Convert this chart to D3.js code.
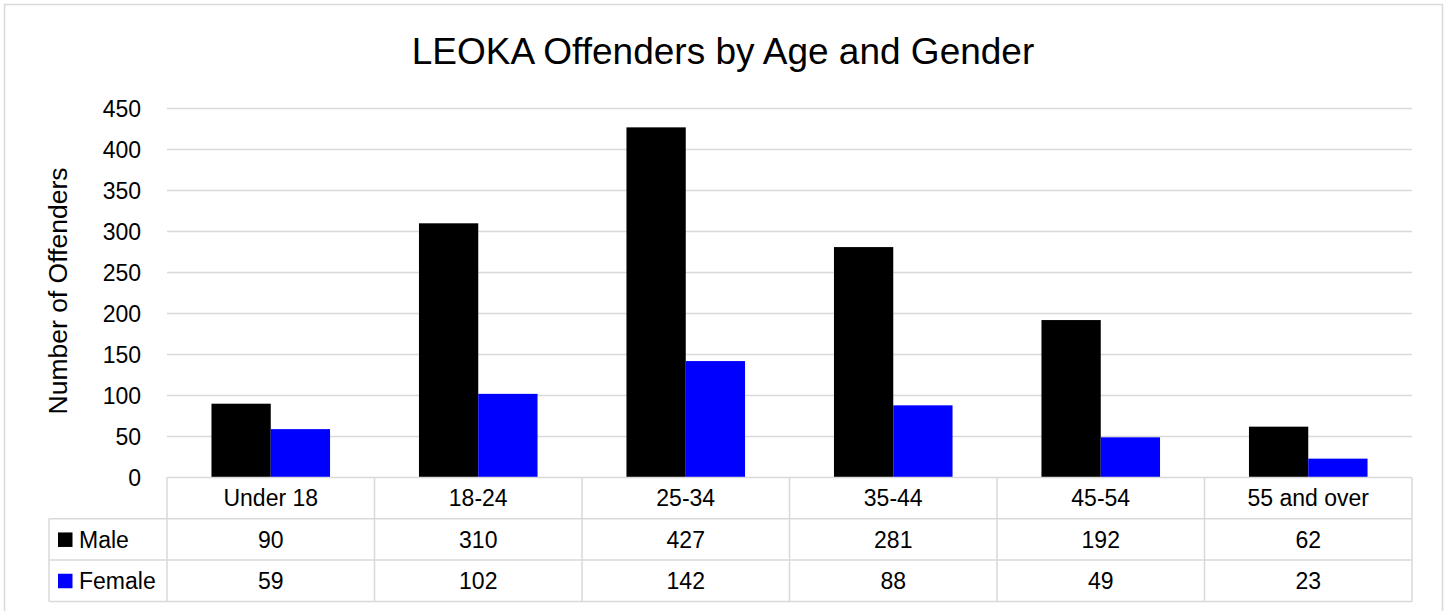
<!DOCTYPE html>
<html>
<head>
<meta charset="utf-8">
<script src="https://cdn.jsdelivr.net/npm/d3@7"></script>
<style>
  body { margin: 0; background: #fff; }
  svg { display: block; font-family: Arial, "Liberation Sans", sans-serif; }
</style>
</head>
<body>
<svg class="chart"></svg>
<script>
// data
const ageGroups = ['Under 18', '18-24', '25-34', '35-44', '45-54', '55 and over']
const seriesNames = ['Male', 'Female']
const maleCounts = [90, 310, 427, 281, 192, 62]
const femaleCounts = [59, 102, 142, 88, 49, 23]
const yTicks = [0, 50, 100, 150, 200, 250, 300, 350, 400, 450]
const seriesColors = ['#000000', '#0000ff']

const width = 1447
const height = 611
const plot = { left: 167, right: 1412, top: 108.5, bottom: 477.5 }
const rowH = 41.3
const gridColor = '#d9d9d9'
const smallFont = 23

const svg = d3.select('.chart')
  .attr('width', width)
  .attr('height', height)

// outer chart frame
svg.append('rect')
  .attr('x', 4.5).attr('y', 4.5)
  .attr('width', 1438).attr('height', 612)
  .attr('fill', 'none')
  .attr('stroke', gridColor)
  .attr('stroke-width', 1.5)

svg.append('text')
  .attr('x', 723)
  .attr('y', 64)
  .attr('text-anchor', 'middle')
  .attr('font-size', 37)
  .text('LEOKA Offenders by Age and Gender')

const x = d3.scaleBand()
  .domain(ageGroups)
  .range([plot.left, plot.right])
  .paddingInner(0)
  .paddingOuter(0)

// gap width 150% -> 0.75 bar of space on each side of the pair
const xInner = d3.scaleBand()
  .domain(seriesNames)
  .range([0, x.bandwidth()])
  .paddingInner(0)
  .paddingOuter(0.75)

const y = d3.scaleLinear()
  .domain([0, 450])
  .range([plot.bottom, plot.top])

// gridlines
svg.append('g')
  .selectAll('line')
  .data(yTicks.slice(1))
  .enter()
  .append('line')
  .attr('x1', plot.left)
  .attr('x2', plot.right)
  .attr('y1', d => y(d))
  .attr('y2', d => y(d))
  .attr('stroke', gridColor)
  .attr('stroke-width', 1.5)

// y axis labels
const yAxis = d3.axisLeft(y).tickValues(yTicks).tickSize(0).tickPadding(0)
svg.append('g')
  .attr('transform', 'translate(141,0)')
  .call(yAxis)
  .call(g => g.select('.domain').remove())
  .selectAll('text')
  .attr('font-size', smallFont)
  .attr('font-family', 'Arial, "Liberation Sans", sans-serif')
  .attr('fill', '#000')
  .attr('dy', '0.36em')

svg.append('text')
  .attr('transform', 'translate(67,291) rotate(-90)')
  .attr('text-anchor', 'middle')
  .attr('font-size', 26.5)
  .text('Number of Offenders')

// bars
const rows = ageGroups.map((g, i) => ({ group: g, values: [maleCounts[i], femaleCounts[i]] }))

const groups = svg.append('g')
  .selectAll('g')
  .data(rows)
  .enter()
  .append('g')
  .attr('transform', d => `translate(${x(d.group)},0)`)

groups.selectAll('rect')
  .data(d => d.values.map((v, j) => ({ name: seriesNames[j], value: v, color: seriesColors[j] })))
  .enter()
  .append('rect')
  .attr('x', d => xInner(d.name))
  .attr('width', xInner.bandwidth())
  .attr('y', d => y(d.value))
  .attr('height', d => y(0) - y(d.value))
  .attr('fill', d => d.color)

// data table
const table = svg.append('g').attr('stroke', gridColor).attr('stroke-width', 1.5)
const tTop = plot.bottom
const tBottom = tTop + rowH * 3
const labelLeft = 49

// horizontal lines
table.append('line')
  .attr('x1', plot.left).attr('x2', plot.right)
  .attr('y1', tTop).attr('y2', tTop)
;[1, 2, 3].forEach(r => {
  table.append('line')
    .attr('x1', labelLeft).attr('x2', plot.right)
    .attr('y1', tTop + rowH * r).attr('y2', tTop + rowH * r)
})
// vertical lines
table.append('line')
  .attr('x1', labelLeft).attr('x2', labelLeft)
  .attr('y1', tTop + rowH).attr('y2', tBottom)
d3.range(ageGroups.length + 1).forEach(i => {
  const xx = plot.left + x.bandwidth() * i
  table.append('line')
    .attr('x1', xx).attr('x2', xx)
    .attr('y1', tTop).attr('y2', tBottom)
})

// header labels
svg.append('g')
  .selectAll('text')
  .data(ageGroups)
  .enter()
  .append('text')
  .attr('x', d => x(d) + x.bandwidth() / 2)
  .attr('y', tTop + rowH / 2)
  .attr('dy', '0.36em')
  .attr('text-anchor', 'middle')
  .attr('font-size', smallFont)
  .text(d => d)

// value rows with legend keys
const seriesData = [maleCounts, femaleCounts]
seriesData.forEach((vals, r) => {
  const cy = tTop + rowH * (r + 1) + rowH / 2
  svg.append('rect')
    .attr('x', 58).attr('y', cy - 7)
    .attr('width', 14.5).attr('height', 14.5)
    .attr('fill', seriesColors[r])
  svg.append('text')
    .attr('x', 79).attr('y', cy).attr('dy', '0.36em')
    .attr('font-size', smallFont)
    .text(seriesNames[r])
  svg.append('g')
    .selectAll('text')
    .data(vals)
    .enter()
    .append('text')
    .attr('x', (d, i) => x(ageGroups[i]) + x.bandwidth() / 2)
    .attr('y', cy)
    .attr('dy', '0.36em')
    .attr('text-anchor', 'middle')
    .attr('font-size', smallFont)
    .text(d => d)
})
</script>
</body>
</html>
